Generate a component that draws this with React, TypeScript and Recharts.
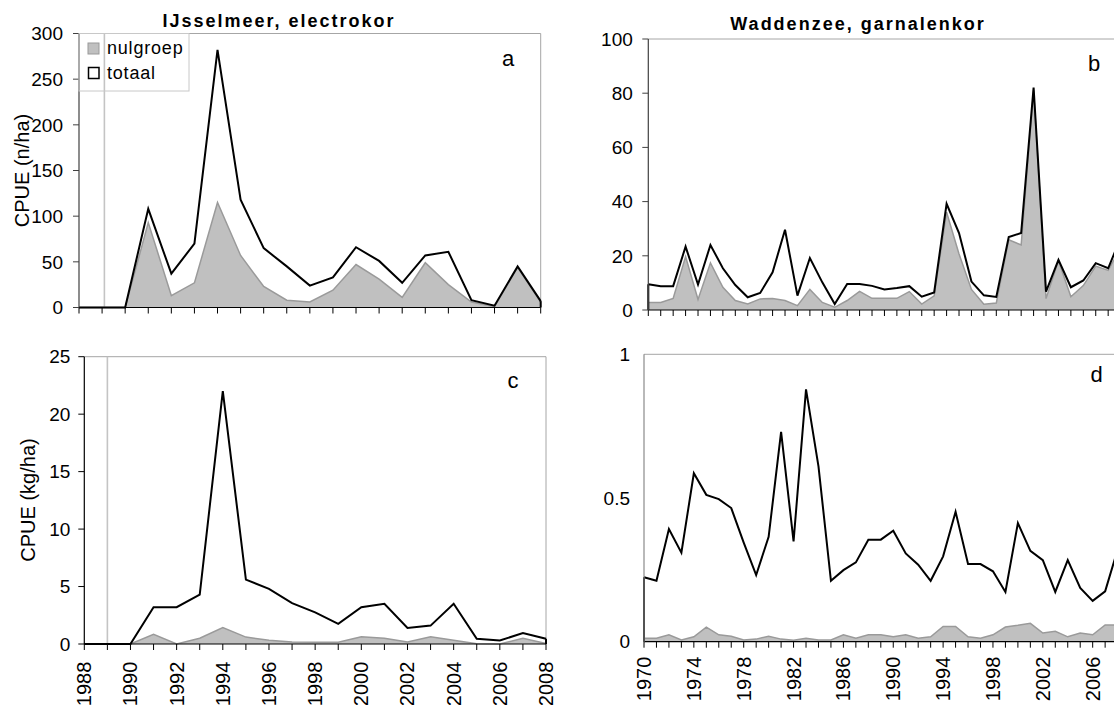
import React from "react";
import {
  ComposedChart,
  Area,
  Line,
  XAxis,
  YAxis,
  ReferenceLine,
} from "recharts";

// IJsselmeer, electrokor (panels a and c)
const yearsIJ = [
  1988, 1989, 1990, 1991, 1992, 1993, 1994, 1995, 1996, 1997, 1998,
  1999, 2000, 2001, 2002, 2003, 2004, 2005, 2006, 2007, 2008,
];
const totaalA = [0, 0, 0, 108, 37, 70, 282, 118, 65, 45, 24, 33, 66, 51, 27, 57, 61, 8, 2, 45, 7];
const nulgroepA = [0, 0, 0, 93, 13, 27, 115, 57, 23, 8, 6, 19, 47, 31, 11, 49, 25, 6, 1, 44, 6];
const totaalC = [0, 0, 0, 3.2, 3.2, 4.3, 22, 5.6, 4.8, 3.55, 2.75, 1.75, 3.2, 3.5, 1.4, 1.6, 3.5, 0.45, 0.3, 0.95, 0.45];
const nulgroepC = [0, 0, 0, 0.84, 0, 0.5, 1.44, 0.6, 0.32, 0.17, 0.15, 0.15, 0.63, 0.5, 0.17, 0.63, 0.32, 0.03, 0, 0.5, 0.05];

// Waddenzee, garnalenkor (panels b and d)
const yearsWZ = [
  1970, 1971, 1972, 1973, 1974, 1975, 1976, 1977, 1978, 1979, 1980, 1981, 1982,
  1983, 1984, 1985, 1986, 1987, 1988, 1989, 1990, 1991, 1992, 1993, 1994, 1995,
  1996, 1997, 1998, 1999, 2000, 2001, 2002, 2003, 2004, 2005, 2006, 2007, 2008,
];
const totaalB = [
  9.5, 8.8, 8.8, 23.4, 9.4, 24, 15.4, 9.2, 4.7, 6.3, 13.9, 29.6, 5.3, 19.2, 10.2,
  2.2, 9.6, 9.6, 8.9, 7.6, 8.1, 8.8, 4.9, 6.5, 39.2, 28.4, 10.5, 5.4, 4.8, 26.9,
  28.4, 82.1, 6.8, 18.5, 8.4, 10.9, 17.3, 15.4, 26.5,
];
const nulgroepB = [
  2.8, 2.8, 4.3, 19.7, 3.9, 17.4, 8.4, 3.5, 2.2, 4.1, 4.2, 3.5, 1.6, 7.6, 2.8,
  1.0, 3.5, 6.9, 4.3, 4.3, 4.3, 6.8, 2.2, 5.2, 36.1, 20.7, 7.6, 2.1, 2.6, 25.9,
  24, 81.1, 4.2, 18.2, 4.9, 9, 16.2, 14.6, 23,
];
const totaalD = [
  0.224, 0.212, 0.392, 0.31, 0.586, 0.511, 0.496, 0.465, 0.345, 0.232, 0.365,
  0.73, 0.349, 0.878, 0.61, 0.212, 0.249, 0.276, 0.355, 0.355, 0.386, 0.307,
  0.268, 0.212, 0.297, 0.452, 0.27, 0.27, 0.245, 0.173, 0.413, 0.316, 0.284,
  0.173, 0.284, 0.187, 0.142, 0.175, 0.32,
];
const nulgroepD = [
  0.012, 0.012, 0.024, 0.006, 0.017, 0.051, 0.024, 0.019, 0.006, 0.009, 0.019,
  0.009, 0.005, 0.012, 0.006, 0.006, 0.024, 0.012, 0.024, 0.024, 0.017, 0.024,
  0.012, 0.017, 0.053, 0.053, 0.017, 0.012, 0.024, 0.051, 0.057, 0.064, 0.03,
  0.036, 0.017, 0.03, 0.024, 0.058, 0.058,
];

const yTicksA = [0, 50, 100, 150, 200, 250, 300];
const yTicksB = [0, 20, 40, 60, 80, 100];
const yTicksC = [0, 5, 10, 15, 20, 25];
const yTicksD = [0, 0.5, 1];
const xLabelsC = [1988, 1990, 1992, 1994, 1996, 1998, 2000, 2002, 2004, 2006, 2008];
const xLabelsD = [1970, 1974, 1978, 1982, 1986, 1990, 1994, 1998, 2002, 2006];

const GRAY_FILL = "#c0c0c0";
const GRAY_EDGE = "#9a9a9a";
const BORDER = "#a6a6a6";
const FONT = "Arial, 'Liberation Sans', Helvetica, sans-serif";

const rows = (years: number[], tot: number[], nul: number[]) =>
  years.map((year, i) => ({ year, tot: tot[i], nul: nul[i] }));

const makeTick = (labels: number[]) => (props: any) => {
  const { x, y, payload } = props;
  if (!labels.includes(payload.value)) return <g />;
  return (
    <text
      x={x}
      y={y}
      transform={`rotate(-90 ${x} ${y})`}
      textAnchor="end"
      dominantBaseline="central"
      fontSize={20}
      fill="#000"
      fontFamily={FONT}
    >
      {payload.value}
    </text>
  );
};

interface PanelProps {
  left: number;
  top: number;
  width: number;
  height: number;
  margin: { top: number; right: number; bottom: number; left: number };
  xAxisHeight: number;
  tickMarginX: number;
  years: number[];
  tot: number[];
  nul: number[];
  yTicks: number[];
  xLabels: number[];
  yAxisColor: string;
  yTickLine: boolean;
  yTickMargin: number;
  refYear?: number;
  rightBorder: boolean;
  edgeStart: boolean;
  edgeEnd: boolean;
}

function Panel(p: PanelProps) {
  const data = rows(p.years, p.tot, p.nul);
  const x0 = p.years[0];
  const x1 = p.years[p.years.length - 1];
  const yMax = p.yTicks[p.yTicks.length - 1];
  return (
    <div style={{ position: "absolute", left: p.left, top: p.top }}>
      <ComposedChart width={p.width} height={p.height} data={data} margin={p.margin}>
        <XAxis
          dataKey="year"
          type="number"
          domain={[x0, x1]}
          ticks={p.years}
          interval={0}
          height={p.xAxisHeight}
          axisLine={{ stroke: "#000", strokeWidth: 1.2 }}
          tickLine={{ stroke: "#000" }}
          tickSize={6}
          tickMargin={p.tickMarginX}
          tick={makeTick(p.xLabels)}
        />
        <YAxis
          type="number"
          domain={[0, yMax]}
          ticks={p.yTicks}
          interval={0}
          width={60}
          axisLine={{ stroke: p.yAxisColor, strokeWidth: 1.2 }}
          tickLine={p.yTickLine ? { stroke: p.yAxisColor } : false}
          tickSize={6}
          tickMargin={p.yTickMargin}
          tick={{ fill: "#000", fontSize: 19, fontFamily: FONT }}
        />
        <ReferenceLine y={yMax} stroke={BORDER} strokeWidth={1} />
        {p.rightBorder && <ReferenceLine x={x1} stroke={BORDER} strokeWidth={1} />}
        {p.refYear !== undefined && (
          <ReferenceLine x={p.refYear} stroke="#c4c4c4" strokeWidth={1.6} />
        )}
        <Area
          type="linear"
          dataKey="nul"
          fill={GRAY_FILL}
          fillOpacity={1}
          stroke={GRAY_EDGE}
          strokeWidth={1.5}
          dot={false}
          activeDot={false}
          isAnimationActive={false}
        />
        <Line
          type="linear"
          dataKey="tot"
          stroke="#000"
          strokeWidth={2}
          dot={false}
          activeDot={false}
          isAnimationActive={false}
        />
        {p.edgeStart && (
          <ReferenceLine
            segment={[
              { x: x0, y: 0 },
              { x: x0, y: p.tot[0] },
            ]}
            stroke="#000"
            strokeWidth={2}
          />
        )}
        {p.edgeEnd && (
          <ReferenceLine
            segment={[
              { x: x1, y: 0 },
              { x: x1, y: p.tot[p.tot.length - 1] },
            ]}
            stroke="#000"
            strokeWidth={2}
          />
        )}
      </ComposedChart>
    </div>
  );
}

export default function App() {
  return (
    <div
      style={{
        position: "absolute",
        left: 0,
        top: 0,
        width: 1114,
        height: 705,
        overflow: "hidden",
        background: "#fff",
        fontFamily: FONT,
      }}
    >
      <Panel
        left={0}
        top={0}
        width={560}
        height={330}
        margin={{ top: 33.5, right: 19.3, bottom: 12.5, left: 19 }}
        xAxisHeight={10}
        tickMarginX={4}
        years={yearsIJ}
        tot={totaalA}
        nul={nulgroepA}
        yTicks={yTicksA}
        xLabels={[]}
        yAxisColor="#404040"
        yTickLine={true}
        yTickMargin={10}
        refYear={1989.1}
        rightBorder={true}
        edgeStart={false}
        edgeEnd={true}
      />
      <Panel
        left={560}
        top={0}
        width={600}
        height={330}
        margin={{ top: 39, right: 39.4, bottom: 10, left: 28.3 }}
        xAxisHeight={10}
        tickMarginX={4}
        years={yearsWZ}
        tot={totaalB}
        nul={nulgroepB}
        yTicks={yTicksB}
        xLabels={[]}
        yAxisColor="#404040"
        yTickLine={true}
        yTickMargin={9.5}
        rightBorder={false}
        edgeStart={true}
        edgeEnd={false}
      />
      <Panel
        left={0}
        top={330}
        width={560}
        height={400}
        margin={{ top: 26.7, right: 14, bottom: 26, left: 24.3 }}
        xAxisHeight={60}
        tickMarginX={11.7}
        years={yearsIJ}
        tot={totaalC}
        nul={nulgroepC}
        yTicks={yTicksC}
        xLabels={xLabelsC}
        yAxisColor="#000"
        yTickLine={true}
        yTickMargin={8}
        refYear={1989}
        rightBorder={true}
        edgeStart={false}
        edgeEnd={true}
      />
      <Panel
        left={560}
        top={330}
        width={600}
        height={400}
        margin={{ top: 24.3, right: 42.4, bottom: 28.3, left: 24 }}
        xAxisHeight={60}
        tickMarginX={9}
        years={yearsWZ}
        tot={totaalD}
        nul={nulgroepD}
        yTicks={yTicksD}
        xLabels={xLabelsD}
        yAxisColor="#8a8a8a"
        yTickLine={false}
        yTickMargin={8}
        rightBorder={false}
        edgeStart={true}
        edgeEnd={false}
      />
      <svg
        width={1114}
        height={705}
        style={{ position: "absolute", left: 0, top: 0, pointerEvents: "none" }}
        fontFamily={FONT}
      >
        <text x={279} y={26.7} textAnchor="middle" fontSize={18} fontWeight="bold" letterSpacing={2}>
          IJsselmeer, electrokor
        </text>
        <text x={858} y={30} textAnchor="middle" fontSize={18} fontWeight="bold" letterSpacing={2}>
          Waddenzee, garnalenkor
        </text>
        <text x={508} y={65.5} textAnchor="middle" fontSize={22}>a</text>
        <text x={1094} y={70.7} textAnchor="middle" fontSize={22}>b</text>
        <text x={513} y={388} textAnchor="middle" fontSize={22}>c</text>
        <text x={1096.5} y={382.3} textAnchor="middle" fontSize={22}>d</text>
        <text
          x={22}
          y={170.5}
          transform="rotate(-90 22 170.5)"
          textAnchor="middle"
          dominantBaseline="central"
          fontSize={20}
        >
          CPUE (n/ha)
        </text>
        <text
          x={28}
          y={500}
          transform="rotate(-90 28 500)"
          textAnchor="middle"
          dominantBaseline="central"
          fontSize={20}
        >
          CPUE (kg/ha)
        </text>
        <rect x={79} y={33.5} width={110} height={57.5} fill="none" stroke="#c8c8c8" strokeWidth={1} />
        <rect x={88} y={43} width={11} height={11} fill={GRAY_FILL} stroke={GRAY_EDGE} strokeWidth={1} />
        <rect x={88.5} y={67.5} width={10.5} height={11} fill="#fff" stroke="#000" strokeWidth={1.5} />
        <text x={107} y={54.3} fontSize={18} letterSpacing={0.8}>nulgroep</text>
        <text x={107} y={78.7} fontSize={18} letterSpacing={0.8}>totaal</text>
      </svg>
    </div>
  );
}
